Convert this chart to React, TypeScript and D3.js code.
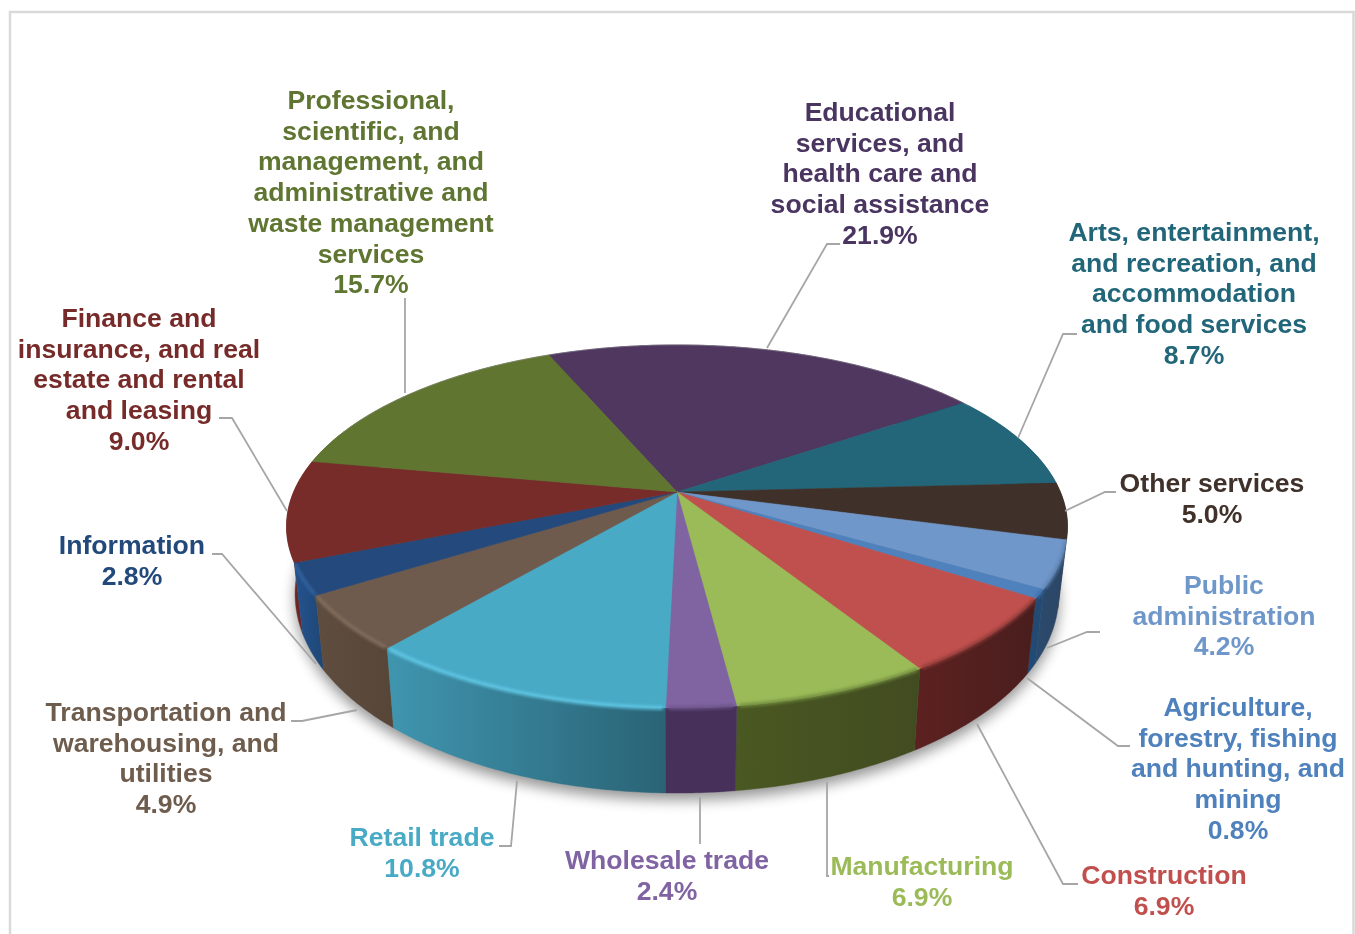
import React from "react";
import * as d3 from "d3";

const categories = [
  "Educational services, and health care and social assistance",
  "Arts, entertainment, and recreation, and accommodation and food services",
  "Other services",
  "Public administration",
  "Agriculture, forestry, fishing and hunting, and mining",
  "Construction",
  "Manufacturing",
  "Wholesale trade",
  "Retail trade",
  "Transportation and warehousing, and utilities",
  "Information",
  "Finance and insurance, and real estate and rental and leasing",
  "Professional, scientific, and management, and administrative and waste management services",
];
const shares = [21.9, 8.7, 5.0, 4.2, 0.8, 6.9, 6.9, 2.4, 10.8, 4.9, 2.8, 9.0, 15.7];
const valueLabels = ["21.9%", "8.7%", "5.0%", "4.2%", "0.8%", "6.9%", "6.9%", "2.4%", "10.8%", "4.9%", "2.8%", "9.0%", "15.7%"];
const labelLines = [
  ["Educational", "services, and", "health care and", "social assistance"],
  ["Arts, entertainment,", "and recreation, and", "accommodation", "and food services"],
  ["Other services"],
  ["Public", "administration"],
  ["Agriculture,", "forestry, fishing", "and hunting, and", "mining"],
  ["Construction"],
  ["Manufacturing"],
  ["Wholesale trade"],
  ["Retail trade"],
  ["Transportation and", "warehousing, and", "utilities"],
  ["Information"],
  ["Finance and", "insurance, and real", "estate and rental", "and leasing"],
  ["Professional,", "scientific, and", "management, and", "administrative and", "waste management", "services"],
];

// styles
const topColors = ["#4f3760", "#23667a", "#3f312a", "#7097c9", "#4f81bd", "#c0504d", "#9bbb59", "#8064a2", "#49aac6", "#6e5b4d", "#24497c", "#772c2a", "#5f7530"];
const labelColors = ["#4a3560", "#23667a", "#3f312a", "#7097c9", "#4f81bd", "#c0504d", "#9bbb59", "#8064a2", "#49aac6", "#6e5b4d", "#24497c", "#772c2a", "#5f7530"];
const sideLeft = ["#3a2a48", "#1a4d5c", "#3a2d27", "#2b4a6e", "#1f4a78", "#5c2120", "#4a5822", "#47315a", "#3f94ae", "#5e4c3f", "#235088", "#7b2d29", "#46571f"];
const sideRight = ["#3a2a48", "#1a4d5c", "#2e2420", "#2c4766", "#234a72", "#4b1e1e", "#424c21", "#47315a", "#2a6375", "#574638", "#1e4674", "#6c2623", "#46571f"];
const rimColors = ["none", "none", "none", "#5d82b0", "#3f6ea8", "#8c3a38", "#6f8a3d", "#6b5288", "#63cbe8", "#85705f", "#33659f", "none", "none"];

// geometry of the tilted pie
const W = 1355, H = 934;
const cx = 677, cy = 492, rx = 383.4, ry = 175, k = 0.19;
const startDeg = -23.1;
const shrink = 0.978, depthBase = 63, depthFront = 22;

const top = (a: number): [number, number] => {
  const u = Math.sin(a), v = -Math.cos(a), w = 1 - k * v;
  return [cx + (rx * u) / w, cy + (ry * v) / w];
};
const bottom = (a: number): [number, number] => {
  const [x, y] = top(a);
  const v = -Math.cos(a);
  return [cx + (x - cx) * shrink, y + depthBase + depthFront * v];
};
const sweep = (a0: number, a1: number) => {
  const n = Math.max(2, Math.ceil(Math.abs(a1 - a0) / 0.01));
  return d3.range(n + 1).map((i) => a0 + ((a1 - a0) * i) / n);
};
const line = d3.line<[number, number]>();

// label placement: centre x, first baseline; leader polyline
const labelX = [880, 1194, 1212, 1224, 1238, 1164, 922, 667, 422, 166, 132, 139, 371];
const labelY = [121, 241, 492, 594, 716, 884, 875, 869, 846, 721, 554, 327, 109];
const leaders: [number, number][][] = [
  [[767, 348], [827, 244], [840, 244]],
  [[1018, 438], [1063, 334], [1077, 334]],
  [[1065, 511], [1105, 492], [1116, 492]],
  [[1047, 648], [1087, 632], [1100, 632]],
  [[1027, 678], [1118, 746], [1130, 746]],
  [[977, 724], [1063, 884], [1078, 884]],
  [[827, 782], [827, 876], [829, 876]],
  [[700, 797], [700, 844]],
  [[517, 781], [511, 846], [499, 846]],
  [[357, 710], [302, 721], [291, 721]],
  [[316, 664], [222, 554], [212, 554]],
  [[287, 511], [232, 418], [219, 418]],
  [[405, 393], [405, 298]],
];

export default function App() {
  const arcs = d3
    .pie<number>()
    .sort(null)
    .startAngle((startDeg * Math.PI) / 180)
    .endAngle((startDeg * Math.PI) / 180 + 2 * Math.PI)(shares);

  const slices = arcs.map((d, i) => ({ i, a0: d.startAngle, a1: d.endAngle }));
  const meanV = (s: { a0: number; a1: number }) => -Math.cos((s.a0 + s.a1) / 2);
  const sideOrder = [...slices].sort((a, b) => meanV(a) - meanV(b));

  const circle = sweep(0, 2 * Math.PI);
  const outline = line(circle.map(bottom)) + "Z";
  const topOutline = line(circle.map(top)) + "Z";
  const wall = (s: { a0: number; a1: number }) => {
    const pts = sweep(s.a0, s.a1);
    return line([...pts.map(top), ...[...pts].reverse().map(bottom)]) + "Z";
  };

  return (
    <svg
      width={W}
      height={H}
      viewBox={`0 0 ${W} ${H}`}
      style={{ position: "fixed", left: 0, top: 0, display: "block", background: "#fff" }}
    >
      <defs>
        <filter id="shadow" x="-20%" y="-30%" width="140%" height="160%">
          <feGaussianBlur stdDeviation="7" />
        </filter>
        <filter id="bevel" x="-20%" y="-20%" width="140%" height="140%">
          <feGaussianBlur stdDeviation="1.5" />
        </filter>
        <filter id="soft" x="-5%" y="-5%" width="110%" height="110%">
          <feGaussianBlur stdDeviation="0.4" />
        </filter>
        <clipPath id="hull">
          <path d={topOutline} />
          {slices.map((s) => (
            <path key={s.i} d={wall(s)} />
          ))}
        </clipPath>
        {slices.map((s) => {
          const p0 = bottom(s.a0), p1 = bottom(s.a1);
          return (
            <linearGradient
              key={s.i}
              id={`side${s.i}`}
              gradientUnits="userSpaceOnUse"
              x1={Math.min(p0[0], p1[0])}
              x2={Math.max(p0[0], p1[0]) + 1}
              y1={0}
              y2={0}
            >
              <stop offset="0" stopColor={p0[0] < p1[0] ? sideRight[s.i] : sideLeft[s.i]} />
              <stop offset="1" stopColor={p0[0] < p1[0] ? sideLeft[s.i] : sideRight[s.i]} />
            </linearGradient>
          );
        })}
      </defs>

      <path d={`M10 934V12H1353.5V934`} fill="none" stroke="#d9d9d9" strokeWidth={2.5} />

      <path d={outline} fill="#000" opacity={0.42} filter="url(#shadow)" transform="translate(0,7)" />

      {/* outer wall */}
      {sideOrder.map((s) => (
        <path key={s.i} d={wall(s)} fill={`url(#side${s.i})`} stroke={`url(#side${s.i})`} strokeWidth={0.4} />
      ))}

      {/* top face */}
      {slices.map((s) => {
        const d = line([[cx, cy], ...sweep(s.a0, s.a1).map(top)]) + "Z";
        return <path key={s.i} d={d} fill={topColors[s.i]} stroke={topColors[s.i]} strokeWidth={0.5} />;
      })}

      {/* bevel band on the front rim */}
      <g clipPath="url(#hull)">
        <g filter="url(#bevel)" opacity={0.85}>
          {slices.map((s) =>
            rimColors[s.i] === "none" ? null : (
              <path
                key={s.i}
                d={line(sweep(s.a0 + 0.006, s.a1 - 0.006).map(top)) as string}
                fill="none"
                stroke={rimColors[s.i]}
                strokeWidth={4}
              />
            )
          )}
        </g>
      </g>

      {/* faint back rim line */}
      <path d={line(sweep(-1.2, 1.0).map(top)) as string} fill="none" stroke="#9a9a9a" strokeWidth={0.8} opacity={0.6} />

      {/* leader lines */}
      <g fill="none" stroke="#a6a6a6" strokeWidth={1.8}>
        {leaders.map((pts, i) => (
          <path key={i} d={line(pts) as string} />
        ))}
      </g>

      {/* labels */}
      <g
        filter="url(#soft)"
        fontFamily="'Liberation Sans', Arial, sans-serif"
        fontWeight={700}
        fontSize={26.6}
        textAnchor="middle"
      >
        {categories.map((name, i) => (
          <text key={name} x={labelX[i]} y={labelY[i]} fill={labelColors[i]}>
            {[...labelLines[i], valueLabels[i]].map((t, j) => (
              <tspan key={j} x={labelX[i]} y={labelY[i] + j * 30.7}>
                {t}
              </tspan>
            ))}
          </text>
        ))}
      </g>
    </svg>
  );
}
